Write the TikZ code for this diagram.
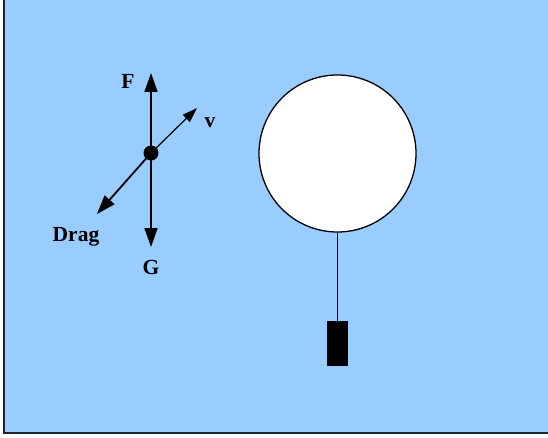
\documentclass[tikz,border=0pt]{standalone}
\usepackage{fontspec}
\setmainfont{Liberation Serif}
\usetikzlibrary{arrows.meta}
\definecolor{sky}{HTML}{99CCFF}
\definecolor{frame}{HTML}{1E2430}
\begin{document}
\begin{tikzpicture}[x=1pt,y=-1pt,
  force/.style={line width=1.8pt,-{Triangle[length=19pt,width=13pt]}},
  thin force/.style={line width=1.2pt,-{Triangle[length=15pt,width=10pt]}},
  lbl/.style={font=\fontsize{21.5}{23}\selectfont\bfseries,inner sep=0pt}]
\useasboundingbox (0,0) rectangle (548,438);
\fill[sky] (4,0) rectangle (548,433);
\draw[frame,line width=2pt] (4,0) -- (4,433) -- (548,433);
% force diagram
\node[circle,fill=black,minimum size=15pt,inner sep=0pt] (p) at (151,153) {};
\coordinate (ftip) at (151,73);
\coordinate (gtip) at (151,247);
\coordinate (vtip) at (197,108);
\coordinate (dtip) at (97,214);
\draw[force] (p.center) -- (ftip);
\draw[force] (p.center) -- (gtip);
\draw[thin force] (p.center) -- (vtip);
\draw[force] (p.center) -- (dtip);
\node[lbl] (F) at (128,81) {F};
\node[lbl] (v) at (210,123) {v};
\node[lbl] (Drag) at (76,237) {Drag};
\node[lbl] (G) at (151,267) {G};
% balloon
\node[circle,draw=black,line width=1.3pt,fill=white,minimum size=157pt,inner sep=0pt] (balloon) at (337.5,153.5) {};
\node[rectangle,fill=black,minimum width=21pt,minimum height=45pt,inner sep=0pt] (basket) at (337.5,343.5) {};
\draw[line width=1.3pt] (balloon.south) -- (basket.north);
\end{tikzpicture}
\end{document}
